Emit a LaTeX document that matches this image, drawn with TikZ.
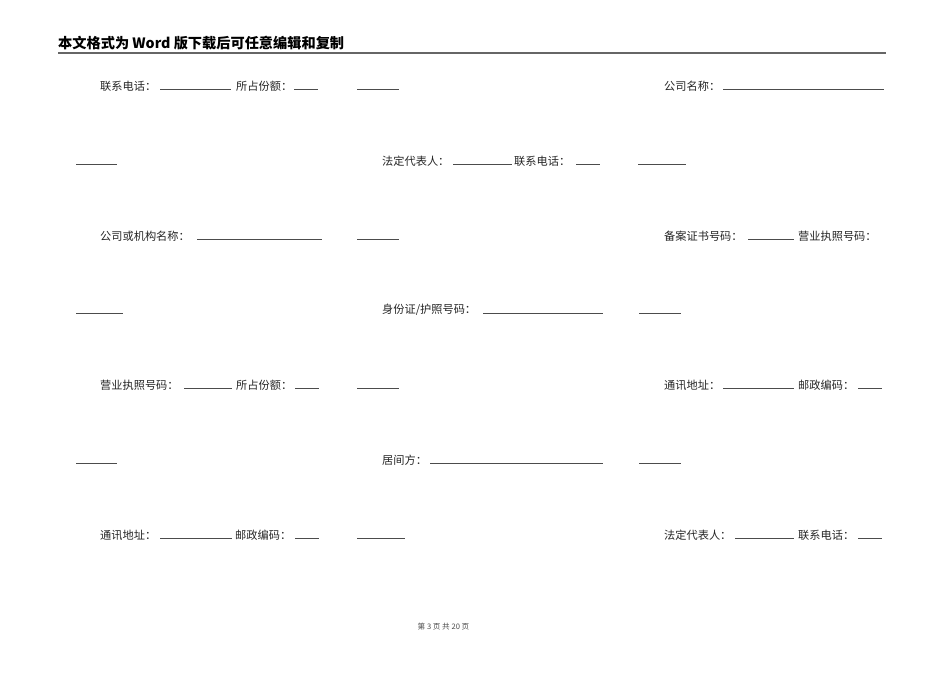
\documentclass[tikz,border=0pt]{standalone}
\usepackage{fontspec}
\newfontfamily\cjk{Noto Sans CJK SC}
\begin{document}
\begin{tikzpicture}[x=1pt,y=-1pt,font=\cjk\fontsize{11.2}{12}\selectfont,
	lbl/.style={anchor=west,inner sep=0pt,text=black!85},
	blank/.style={line width=0.8pt,black!70}]
	\useasboundingbox[fill=white] (0,0) rectangle (950,672);
	% header
	\node[lbl,font=\cjk\bfseries\fontsize{14.2}{16}\selectfont,text=black] (head) at (58,43.5) {本文格式为 Word 版下载后可任意编辑和复制};
	\draw[line width=1.8pt,black!60] (58,52.7) -- (886,52.7);
	% row 1
	\node[lbl] (tel1) at (100,86) {联系电话：};
	\node[lbl] (share1) at (236,86) {所占份额：};
	\node[lbl] (corp) at (664,86) {公司名称：};
	\draw[blank] (160,89.5)--(231,89.5) (294,89.5)--(318,89.5) (357,89.5)--(399,89.5) (723,89.5)--(884,89.5);
	% row 2
	\node[lbl] (rep1) at (382,161) {法定代表人：};
	\node[lbl] (tel2) at (514,161) {联系电话：};
	\draw[blank] (76,164.5)--(117,164.5) (453,164.5)--(512,164.5) (576,164.5)--(600,164.5) (638,164.5)--(686,164.5);
	% row 3
	\node[lbl] (org) at (100,236) {公司或机构名称：};
	\node[lbl] (cert) at (664,236) {备案证书号码：};
	\node[lbl] (lic1) at (798,236) {营业执照号码：};
	\draw[blank] (197,239.5)--(322,239.5) (357,239.5)--(399,239.5) (748,239.5)--(794,239.5);
	% row 4
	\node[lbl] (idno) at (382,310) {身份证/护照号码：};
	\draw[blank] (76,313.5)--(123,313.5) (483,313.5)--(603,313.5) (639,313.5)--(681,313.5);
	% row 5
	\node[lbl] (lic2) at (100,385) {营业执照号码：};
	\node[lbl] (share2) at (236,385) {所占份额：};
	\node[lbl] (addr1) at (664,385) {通讯地址：};
	\node[lbl] (post1) at (798,385) {邮政编码：};
	\draw[blank] (184,388.5)--(232,388.5) (295,388.5)--(319,388.5) (357,388.5)--(399,388.5) (723,388.5)--(794,388.5) (858,388.5)--(882,388.5);
	% row 6
	\node[lbl] (broker) at (382,460) {居间方：};
	\draw[blank] (76,463.5)--(117,463.5) (430,463.5)--(603,463.5) (639,463.5)--(681,463.5);
	% row 7
	\node[lbl] (addr2) at (100,535) {通讯地址：};
	\node[lbl] (post2) at (235,535) {邮政编码：};
	\node[lbl] (rep2) at (664,535) {法定代表人：};
	\node[lbl] (tel3) at (798,535) {联系电话：};
	\draw[blank] (160,538.5)--(232,538.5) (295,538.5)--(319,538.5) (357,538.5)--(405,538.5) (735,538.5)--(794,538.5) (858,538.5)--(882,538.5);
	% footer
	\node[font=\cjk\fontsize{7.6}{9}\selectfont,text=black!70,inner sep=0pt] (page) at (443.5,626.5) {第\ 3\ 页\ 共\ 20\ 页};
\end{tikzpicture}
\end{document}
